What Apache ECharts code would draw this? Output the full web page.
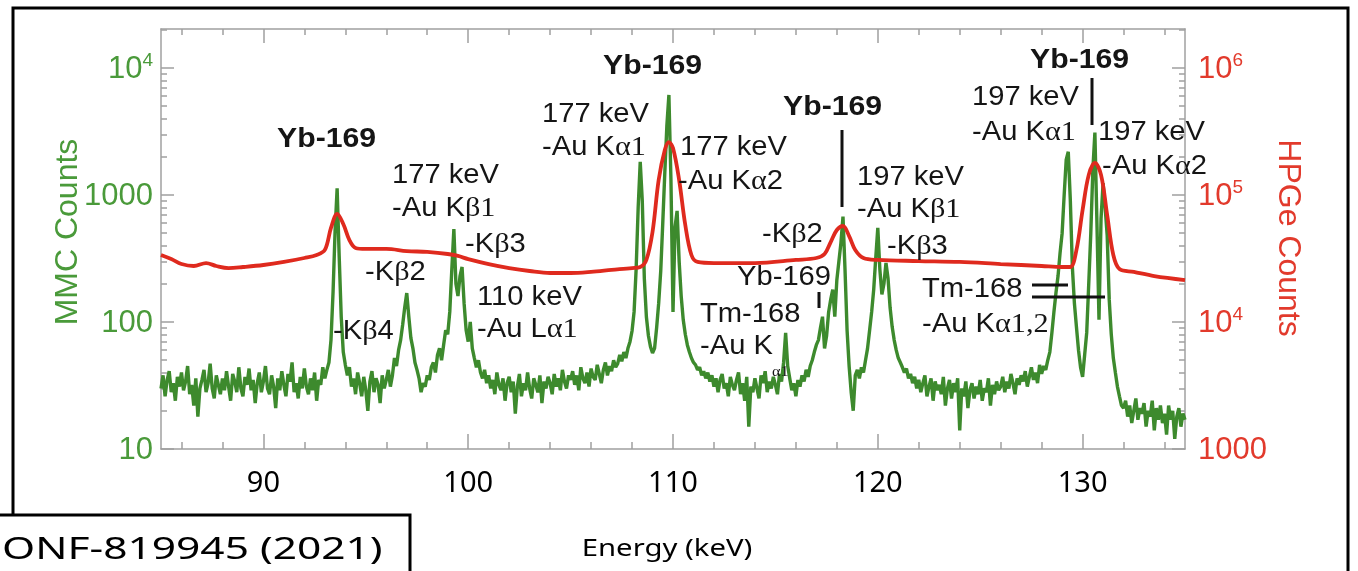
<!DOCTYPE html>
<html>
<head>
<meta charset="utf-8">
<title>MMC vs HPGe spectrum</title>
<script src="https://cdn.jsdelivr.net/npm/echarts@6/dist/echarts.min.js"></script>
<style>
html, body { margin: 0; padding: 0; background: #fff; }
#chart { width: 1358px; height: 571px; }
</style>
</head>
<body>
<div id="chart"></div>
<script>
// MMC spectrum, one value per 0.1 keV channel from 85.0 to 135.0 keV
var energyStart = 85, energyStep = 0.1;
var mmcCounts = [
  30, 38, 26, 35, 41, 28, 33, 24, 37, 31,
  40, 29, 34, 45, 27, 32, 22, 36, 18, 30,
  35, 42, 28, 33, 47, 30, 25, 38, 32, 27,
  36, 29, 41, 31, 24, 39, 34, 28, 44, 30,
  26, 37, 32, 43, 29, 35, 23, 33, 40, 28,
  34, 45, 30, 27, 38, 31, 21, 36, 29, 41,
  32, 26, 39, 34, 48, 28, 33, 25, 37, 30,
  43, 31, 27, 36, 29, 40, 24, 35, 32, 44,
  36, 42, 48, 72, 170, 520, 1130, 330, 110, 58,
  46, 38, 44, 31, 36, 27, 40, 33, 26, 37,
  29, 20, 34, 41, 28, 36, 32, 23, 38, 30,
  35, 42, 31, 38, 52, 45, 60, 72, 95, 130,
  169, 110, 75, 62, 48, 42, 36, 28, 33, 31,
  38, 35, 44, 48, 40, 55, 62, 50, 66, 86,
  80, 120, 260, 540, 200, 160, 230, 271, 140, 86,
  70, 100, 62, 52, 44, 50, 40, 36, 42, 33,
  38, 30, 35, 27, 40, 32, 29, 36, 24, 33,
  37, 28, 34, 19, 31, 39, 26, 33, 29, 40,
  30, 25, 36, 32, 28, 38, 23, 34, 30, 37,
  33, 27, 39, 31, 36, 29, 42, 34, 30, 38,
  35, 41, 32, 38, 29, 44, 36, 33, 40, 31,
  43, 37, 35, 46, 39, 33, 42, 48, 38, 45,
  41, 50, 44, 47, 55, 49, 58, 52, 62, 70,
  85, 120, 260, 800, 1820, 900, 220, 110, 78, 64,
  57, 62, 90, 140, 250, 600, 1500, 3500, 6130, 1300,
  120, 560, 750, 300, 160, 104, 80, 66, 58, 52,
  48, 46, 42, 44, 38, 41, 36, 40, 34, 38,
  31, 36, 28, 35, 39, 30, 33, 26, 37, 32,
  29, 35, 40, 27, 33, 24, 37, 15, 31, 28,
  36, 30, 25, 38, 33, 41, 28, 34, 30, 37,
  32, 27, 39, 34, 48, 82, 45, 36, 29, 33,
  26, 35, 31, 38, 34, 42, 37, 45, 50, 58,
  66, 72, 90, 110, 62, 78, 120, 150, 180, 110,
  214, 300, 420, 675, 256, 86, 45, 28, 20, 38,
  42, 36, 44, 40, 50, 62, 86, 120, 180, 320,
  550, 260, 165, 200, 292, 220, 130, 92, 72, 60,
  52, 48, 44, 40, 43, 36, 39, 33, 37, 30,
  35, 28, 33, 38, 26, 31, 36, 24, 34, 29,
  32, 27, 37, 22, 30, 35, 25, 33, 28, 36,
  14, 30, 26, 34, 21, 29, 33, 25, 31, 27,
  35, 24, 30, 28, 36, 22, 32, 27, 34, 29,
  31, 37, 28, 34, 30, 39, 33, 27, 36, 32,
  38, 34, 41, 31, 37, 44, 35, 40, 33, 46,
  39, 45, 42, 50, 58, 82, 120, 170, 230, 350,
  500, 1000, 1900, 2190, 915, 271, 140, 91, 60, 44,
  37, 55, 82, 200, 500, 1570, 3100, 600, 104, 650,
  1240, 800, 480, 150, 80, 52, 40, 31, 26, 22,
  21, 24, 18, 22, 16, 20, 25, 17, 21, 19,
  23, 15, 20, 18, 24, 14, 21, 17, 22, 16,
  19, 13, 22, 17, 20, 12, 18, 21, 15, 19,
  17
];

// HPGe spectrum (smooth), energy in keV
var hpgeEnergy = [85.0, 85.5, 86.0, 86.6, 87.2, 87.7, 88.3, 89.0, 90.0, 91.0, 92.0, 92.6, 93.0, 93.3, 93.6, 93.9, 94.2, 94.5, 95.0, 96.0,
  97.0, 98.0, 99.0, 99.5, 100.0, 101.0, 102.0, 103.0, 104.0, 105.0, 106.0, 107.0, 108.0, 108.4, 108.7, 109.0, 109.3, 109.6, 109.8, 110.0,
  110.3, 110.6, 110.9, 111.2, 112.0, 114.0, 116.0, 117.0, 117.4, 117.7, 118.0, 118.3, 118.6, 118.9, 119.3, 120.0, 122.0, 124.0, 126.0, 128.0,
  129.0, 129.4, 129.7, 130.0, 130.3, 130.6, 130.9, 131.2, 131.5, 131.8, 132.5, 133.5, 135.0];
var hpgeCounts = [33700, 31300, 28600, 27600, 29100, 27600, 26600, 27100, 28100, 29700, 31900, 33700, 36900, 55000, 70900, 59100, 44200, 38300, 37600, 37600,
  36200, 35600, 34300, 33100, 31300, 28600, 26600, 25200, 24300, 24300, 24800, 25700, 26600, 27100, 30800, 51100, 131000, 226000, 261000, 234000,
  131000, 58000, 33700, 29700, 29100, 29100, 30800, 31900, 34300, 42600, 53000, 57000, 47500, 36900, 31900, 30800, 30200, 29700, 28600, 27600,
  27100, 27100, 36900, 76200, 144000, 179000, 144000, 69600, 33700, 26100, 24800, 23000, 21400];

var energyTicks = [90, 100, 110, 120, 130];
var energyMinorTicks = [86, 88, 92, 94, 96, 98, 102, 104, 106, 108, 112, 114, 116, 118, 122, 124, 126, 128, 132, 134];
var mmcTicks = [10, 100, 1000, 10000];
var mmcMinorTicks = [20, 30, 40, 50, 60, 70, 80, 90, 200, 300, 400, 500, 600, 700, 800, 900,
  2000, 3000, 4000, 5000, 6000, 7000, 8000, 9000, 20000];
var hpgeTicks = [1000, 10000, 100000, 1000000];
var hpgeMinorTicks = [2000, 3000, 4000, 5000, 6000, 7000, 8000, 9000, 20000, 30000, 40000, 50000, 60000, 70000, 80000, 90000,
  200000, 300000, 400000, 500000, 600000, 700000, 800000, 900000, 2000000];

var GREEN_LINE = '#3d8a2d', GREEN_TEXT = '#4a9a3a';
var RED_LINE = '#df2a1e', RED_TEXT = '#e23a2c';
var AXIS_GRAY = '#a0a0a0';

var chart = echarts.init(document.getElementById('chart'));

function powLabel(v) {
  var e = Math.round(Math.log10(v));
  if (v >= 10000) return '{n|10}{s|' + e + '}';
  return '{n|' + v + '}';
}
function richFor(color) {
  return {
    n: { fontSize: 31, color: color, fontFamily: 'Liberation Sans', verticalAlign: 'bottom', lineHeight: 34 },
    s: { fontSize: 19, color: color, fontFamily: 'Liberation Sans', verticalAlign: 'top', lineHeight: 34 }
  };
}

function xAxisDef(pos, ticks, len, showLine, showLabel) {
  return {
    type: 'value', min: 85, max: 135, position: pos,
    axisLine: { show: showLine, onZero: false, lineStyle: { color: AXIS_GRAY, width: 1.5 } },
    axisTick: { show: true, inside: true, length: len, customValues: ticks, lineStyle: { color: AXIS_GRAY, width: 1.5 } },
    axisLabel: {
      show: showLabel, customValues: ticks, margin: 20,
      fontFamily: 'Noto Sans', fontSize: 29, color: '#000'
    },
    splitLine: { show: false }
  };
}
function yAxisDef(pos, min, max, ticks, len, showLine, labelColor) {
  return {
    type: 'log', min: min, max: max, position: pos,
    axisLine: { show: showLine, lineStyle: { color: AXIS_GRAY, width: 1.5 } },
    axisTick: { show: true, inside: true, length: len, customValues: ticks, lineStyle: { color: AXIS_GRAY, width: 1.5 } },
    axisLabel: labelColor ? {
      show: true, customValues: ticks, margin: pos === 'left' ? 8 : 13,
      formatter: powLabel, rich: richFor(labelColor)
    } : { show: false },
    splitLine: { show: false }
  };
}

// plain text with the slightly wide look of the original slide
function note(x, y, text, opt) {
  opt = opt || {};
  var size = opt.size || 27;
  return {
    type: 'text', x: x, y: y, scaleX: opt.scaleX || 1.08, z: 10,
    style: {
      text: text,
      fontSize: size,
      fontFamily: opt.family || 'Liberation Sans',
      fontWeight: opt.bold ? 'bold' : 'normal',
      fill: opt.color || '#151515',
      textAlign: opt.align || 'left',
      textVerticalAlign: 'middle',
      rich: {
        g: { fontFamily: 'Liberation Serif', fontSize: size + 1, fill: '#151515' }
      }
    }
  };
}
function bar(x1, y1, x2, y2) {
  return { type: 'line', z: 10, shape: { x1: x1, y1: y1, x2: x2, y2: y2 }, style: { stroke: '#111', lineWidth: 3 } };
}

var graphics = [
  // slide frame
  { type: 'polyline', shape: { points: [[13, 515], [13, 8], [1348, 8], [1348, 571]] }, style: { stroke: '#000', lineWidth: 3, fill: null } },
  { type: 'polyline', shape: { points: [[0, 515], [410, 515], [410, 571]] }, style: { stroke: '#000', lineWidth: 3, fill: null } },
  note(2, 550, 'ONF-819945 (2021)', { family: 'Noto Sans', size: 31, color: '#000', scaleX: 1.37 }),
  note(667, 549, 'Energy (keV)', { family: 'Noto Sans', size: 24, color: '#000', align: 'center', scaleX: 1.22 }),
  // axis titles
  { type: 'text', x: 68, y: 232, rotation: Math.PI / 2, style: { text: 'MMC Counts', fontSize: 32, fontFamily: 'Liberation Sans', fill: GREEN_TEXT, textAlign: 'center', textVerticalAlign: 'middle' } },
  { type: 'text', x: 1288, y: 238, rotation: -Math.PI / 2, style: { text: 'HPGe Counts', fontSize: 32, fontFamily: 'Liberation Sans', fill: RED_TEXT, textAlign: 'center', textVerticalAlign: 'middle' } },
  // peak labels
  note(277, 139, 'Yb-169', { bold: true, size: 28 }),
  note(392, 176, '177 keV'),
  note(392, 209, '-Au K{g|β1}'),
  note(465, 245, '-K{g|β}3'),
  note(365, 273, '-K{g|β}2'),
  note(333, 332, '-K{g|β}4'),
  note(477, 298, '110 keV'),
  note(477, 330, '-Au L{g|α1}'),
  note(542, 115, '177 keV'),
  note(542, 148, '-Au K{g|α1}'),
  note(603, 66, 'Yb-169', { bold: true, size: 28 }),
  note(680, 148, '177 keV'),
  note(678, 182, '-Au K{g|α}2'),
  note(783, 107, 'Yb-169', { bold: true, size: 28 }),
  note(857, 178, '197 keV'),
  note(857, 210, '-Au K{g|β1}'),
  note(762, 235, '-K{g|β}2'),
  note(887, 247, '-K{g|β}3'),
  note(737, 278, 'Yb-169'),
  note(700, 315, 'Tm-168'),
  note(700, 347, '-Au K'),
  note(772, 372, 'α1', { family: 'Liberation Serif', size: 15 }),
  note(922, 290, 'Tm-168'),
  note(922, 325, '-Au K{g|α1,2}'),
  note(972, 98, '197 keV'),
  note(972, 133, '-Au K{g|α1}'),
  note(1030, 60, 'Yb-169', { bold: true, size: 28 }),
  note(1098, 133, '197 keV'),
  note(1102, 167, '-Au K{g|α}2'),
  bar(842, 130, 842, 207),
  bar(819, 292, 819, 308),
  bar(1092, 78, 1092, 125),
  bar(1032, 285, 1068, 285),
  bar(1032, 297, 1105, 297)
];

var option = {
  animation: false,
  backgroundColor: '#fff',
  textStyle: { fontFamily: 'Liberation Sans' },
  grid: { left: 161, right: 173, top: 29, bottom: 122, containLabel: false },
  xAxis: [
    xAxisDef('bottom', energyTicks, 15, true, true),
    xAxisDef('bottom', energyMinorTicks, 7, false, false),
    xAxisDef('top', energyTicks, 14, true, false),
    xAxisDef('top', energyMinorTicks, 6, false, false)
  ],
  yAxis: [
    yAxisDef('left', 10, 20270, mmcTicks, 13, true, GREEN_TEXT),
    yAxisDef('right', 1000, 2027000, hpgeTicks, 13, true, RED_TEXT),
    yAxisDef('left', 10, 20270, mmcMinorTicks, 6, false, null),
    yAxisDef('right', 1000, 2027000, hpgeMinorTicks, 6, false, null)
  ],
  series: [
    {
      name: 'MMC', type: 'line', xAxisIndex: 0, yAxisIndex: 0,
      data: mmcCounts.map(function (v, i) { return [+(energyStart + i * energyStep).toFixed(1), v]; }),
      showSymbol: false, z: 2,
      lineStyle: { color: GREEN_LINE, width: 3.4 }
    },
    {
      name: 'HPGe', type: 'line', xAxisIndex: 0, yAxisIndex: 1,
      data: hpgeEnergy.map(function (e, i) { return [e, hpgeCounts[i]]; }),
      showSymbol: false, smooth: 0.35, z: 3,
      lineStyle: { color: RED_LINE, width: 3.8 }
    }
  ],
  graphic: graphics
};
chart.setOption(option);
</script>
</body>
</html>
